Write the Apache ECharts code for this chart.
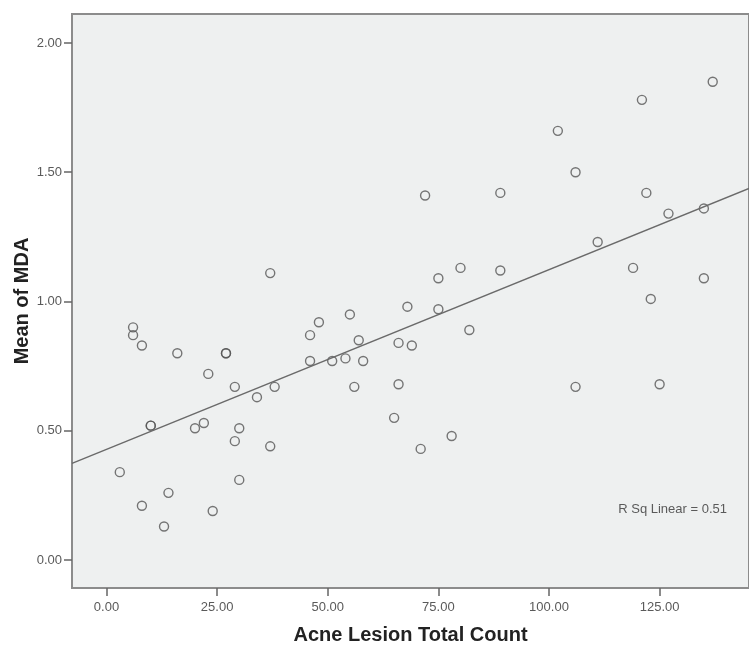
<!DOCTYPE html>
<html>
<head>
<meta charset="utf-8">
<script src="https://cdn.jsdelivr.net/npm/echarts@6/dist/echarts.min.js"></script>
<style>
html,body{margin:0;padding:0;background:#ffffff;}
#chart{width:749px;height:648px;}
</style>
</head>
<body>
<div id="chart"></div>
<script>
// Acne Lesion Total Count (x) and Mean of MDA (y)
const lesionCount = [37, 6, 6, 8, 16, 27, 27, 23, 29, 34, 38, 10, 10, 20, 22, 30, 29, 37, 3, 30, 14, 8, 24, 13,
  75, 80, 89, 48, 46, 55, 68, 75, 82, 57, 66, 69, 46, 51, 54, 58, 56, 66, 65, 78, 71,
  72, 89, 121, 102, 106, 122, 127, 135, 111, 119, 135, 123, 106, 125, 137];
const meanMDA = [1.11, 0.90, 0.87, 0.83, 0.80, 0.80, 0.80, 0.72, 0.67, 0.63, 0.67, 0.52, 0.52, 0.51, 0.53, 0.51, 0.46, 0.44, 0.34, 0.31, 0.26, 0.21, 0.19, 0.13,
  1.09, 1.13, 1.12, 0.92, 0.87, 0.95, 0.98, 0.97, 0.89, 0.85, 0.84, 0.83, 0.77, 0.77, 0.78, 0.77, 0.67, 0.68, 0.55, 0.48, 0.43,
  1.41, 1.42, 1.78, 1.66, 1.50, 1.42, 1.34, 1.36, 1.23, 1.13, 1.09, 1.01, 0.67, 0.68, 1.85];
const xTicks = [0, 25, 50, 75, 100, 125];
const yTicks = [0, 0.5, 1.0, 1.5, 2.0];
const xName = 'Acne Lesion Total Count';
const yName = 'Mean of MDA';
const rsqLabel = 'R Sq Linear = 0.51';
const xMin = -7.8, xMax = 145.2, yMin = -0.108, yMax = 2.112;

const points = lesionCount.map((x, i) => [x, meanMDA[i]]);
// least-squares fit from the data
const n = points.length;
let sx = 0, sy = 0, sxx = 0, sxy = 0;
points.forEach(p => { sx += p[0]; sy += p[1]; sxx += p[0] * p[0]; sxy += p[0] * p[1]; });
const slope = (n * sxy - sx * sy) / (n * sxx - sx * sx);
const intercept = (sy - slope * sx) / n;
const fitLine = [[xMin, intercept + slope * xMin], [xMax, intercept + slope * xMax]];

const chart = echarts.init(document.getElementById('chart'), null, {renderer: 'canvas'});
const labelFont = {color: '#5a5a5a', fontFamily: 'Liberation Sans, Arial, sans-serif', fontSize: 13};
chart.setOption({
  animation: false,
  backgroundColor: '#ffffff',
  grid: {left: 72, top: 14, right: 0, bottom: 60, outerBoundsMode: 'none', containLabel: false,
    show: true, backgroundColor: '#EEF0F0', borderColor: '#8c8c8c', borderWidth: 2},
  xAxis: {
    type: 'value', min: xMin, max: xMax,
    name: xName, nameLocation: 'middle', nameGap: 37, nameMoveOverlap: false,
    nameTextStyle: {color: '#222', fontFamily: 'Liberation Sans, Arial, sans-serif', fontWeight: 'bold', fontSize: 20},
    axisLine: {show: true, onZero: false, lineStyle: {color: '#8c8c8c', width: 2}},
    axisTick: {show: true, length: 8, customValues: xTicks, lineStyle: {color: '#666', width: 1.5}},
    axisLabel: Object.assign({customValues: xTicks, margin: 13, formatter: v => v.toFixed(2)}, labelFont),
    splitLine: {show: false}
  },
  yAxis: {
    type: 'value', min: yMin, max: yMax,
    name: yName, nameLocation: 'middle', nameGap: 40, nameMoveOverlap: false,
    nameTextStyle: {color: '#222', fontFamily: 'Liberation Sans, Arial, sans-serif', fontWeight: 'bold', fontSize: 20},
    axisLine: {show: true, onZero: false, lineStyle: {color: '#8c8c8c', width: 2}},
    axisTick: {show: true, length: 8, customValues: yTicks, lineStyle: {color: '#666', width: 1.5}},
    axisLabel: Object.assign({customValues: yTicks, margin: 10, formatter: v => v.toFixed(2)}, labelFont),
    splitLine: {show: false}
  },
  graphic: [{
    type: 'text', right: 22, top: 503,
    style: {text: rsqLabel, fill: '#5a5a5a', font: '13px "Liberation Sans", Arial, sans-serif'}
  }],
  series: [{
    type: 'line', data: fitLine, symbol: 'none', silent: true,
    lineStyle: {color: '#6a6a6a', width: 1.4}
  }, {
    type: 'scatter', data: points, symbol: 'circle', symbolSize: 9,
    itemStyle: {color: 'rgba(0,0,0,0)', borderColor: '#555', borderWidth: 1.4}
  }]
});
</script>
</body>
</html>
